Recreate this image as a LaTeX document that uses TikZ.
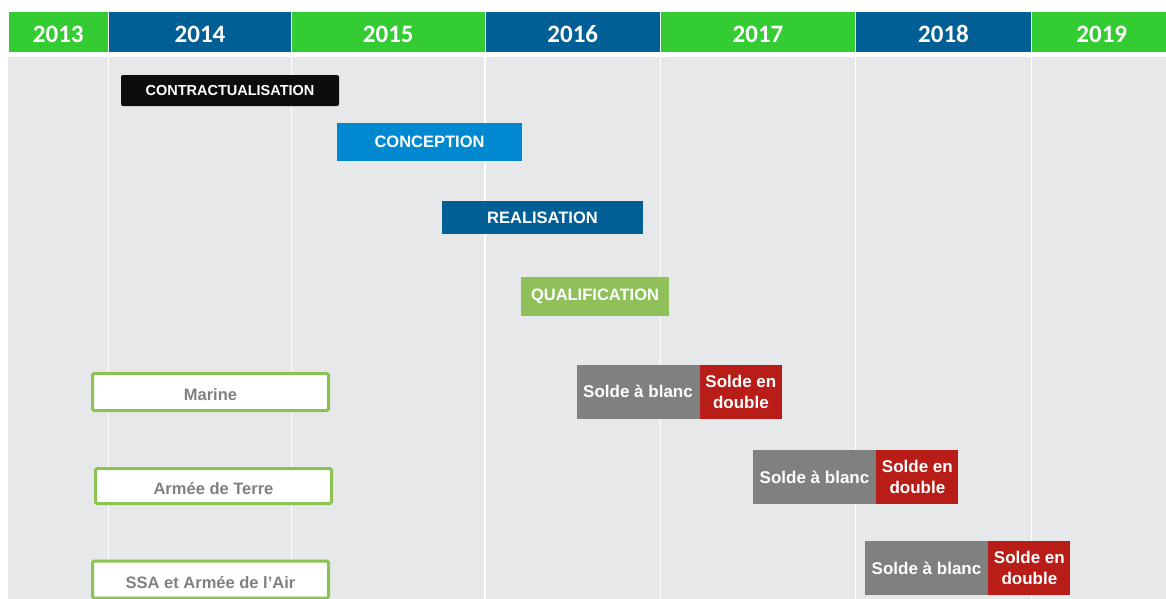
\documentclass[tikz,border=0pt]{standalone}
\usepackage{fontspec}
\setmainfont{Liberation Sans}
\newfontfamily\yearfont{Carlito}
\usetikzlibrary{positioning}

\definecolor{headgreen}{RGB}{51,204,51}
\definecolor{headblue}{RGB}{0,96,150}
\definecolor{bodygray}{RGB}{231,232,234}
\definecolor{conceptblue}{RGB}{0,137,208}
\definecolor{qualgreen}{RGB}{143,192,90}
\definecolor{boxgreen}{RGB}{140,194,82}
\definecolor{labelgray}{RGB}{128,128,128}
\definecolor{soldegray}{RGB}{128,128,128}
\definecolor{soldered}{RGB}{184,29,24}

\begin{document}
\begin{tikzpicture}[x=1pt, y=-1pt,
    year cell/.style={rectangle, draw=white, line width=1pt, text=white, minimum height=41pt, inner sep=0pt, text height=20pt, text depth=0pt, font=\yearfont\bfseries\fontsize{25}{27}\selectfont},
    phase/.style={rectangle, text=white, inner sep=0pt, font=\bfseries\fontsize{16.5}{18}\selectfont},
    army box/.style={rectangle, draw=boxgreen, line width=3pt, fill=white, rounded corners=1.5pt, text=labelgray, inner sep=0pt, text height=17pt, text depth=0pt, minimum width=236pt, minimum height=37pt, font=\bfseries\fontsize{16.5}{18}\selectfont},
    soldeblanc/.style={rectangle, fill=soldegray, text=white, inner sep=0pt, minimum width=123pt, minimum height=54pt, font=\bfseries\fontsize{17}{21}\selectfont},
    soldedouble/.style={rectangle, fill=soldered, text=white, inner sep=0pt, minimum width=82pt, minimum height=54pt, align=center, font=\bfseries\fontsize{17}{21}\selectfont},
    ]
  \useasboundingbox (0,0) rectangle (1166,598);

  % body and year grid
  \fill[bodygray] (8,57) rectangle (1170,600);
  \foreach \x in {108.5,291.5,485,660.5,855.5,1031.5}
    \draw[white, line width=1.5pt] (\x,57) -- (\x,600);

  \foreach \yr/\xl/\xr/\col in {2013/8/108.5/headgreen, 2014/108.5/291.5/headblue,
      2015/291.5/485/headgreen, 2016/485/660.5/headblue, 2017/660.5/855.5/headgreen,
      2018/855.5/1031.5/headblue, 2019/1031.5/1172/headgreen}
    \node[year cell, fill=\col, minimum width={(\xr-\xl)*1pt}] (y\yr) at ({(\xl+\xr)/2},32) {\yr};

  % phases
  \node[phase, fill=black!95, rounded corners=2pt, minimum width=218pt, minimum height=31pt,
    font=\bfseries\fontsize{14.5}{16}\selectfont] (contract) at (230,90.5) {CONTRACTUALISATION};
  \node[phase, fill=conceptblue, minimum width=185pt, minimum height=38pt] (concept) at (429.5,142) {CONCEPTION};
  \node[phase, fill=headblue, minimum width=201pt, minimum height=33pt] (real) at (542.5,217.5) {REALISATION};
  \node[phase, fill=qualgreen, minimum width=148pt, minimum height=39pt] (qualif) at (595,296.5) {QUALIFICATION};

  % armies
  \node[army box] (marine) at (210.5,392) {Marine};
  \node[army box, minimum height=35pt] (terre) at (213.5,486) {Armée de Terre};
  \node[army box] (air) at (210.5,579.5) {SSA et Armée de l’Air};

  % soldes
  \node[soldeblanc] (blanc1) at (638,391.5) {Solde à blanc};
  \node[soldedouble, right=0pt of blanc1] (double1) {Solde en\\double};
  \node[soldeblanc] (blanc2) at (814.5,477) {Solde à blanc};
  \node[soldedouble, right=0pt of blanc2] (double2) {Solde en\\double};
  \node[soldeblanc] (blanc3) at (926.5,568) {Solde à blanc};
  \node[soldedouble, right=0pt of blanc3] (double3) {Solde en\\double};
\end{tikzpicture}
\end{document}
